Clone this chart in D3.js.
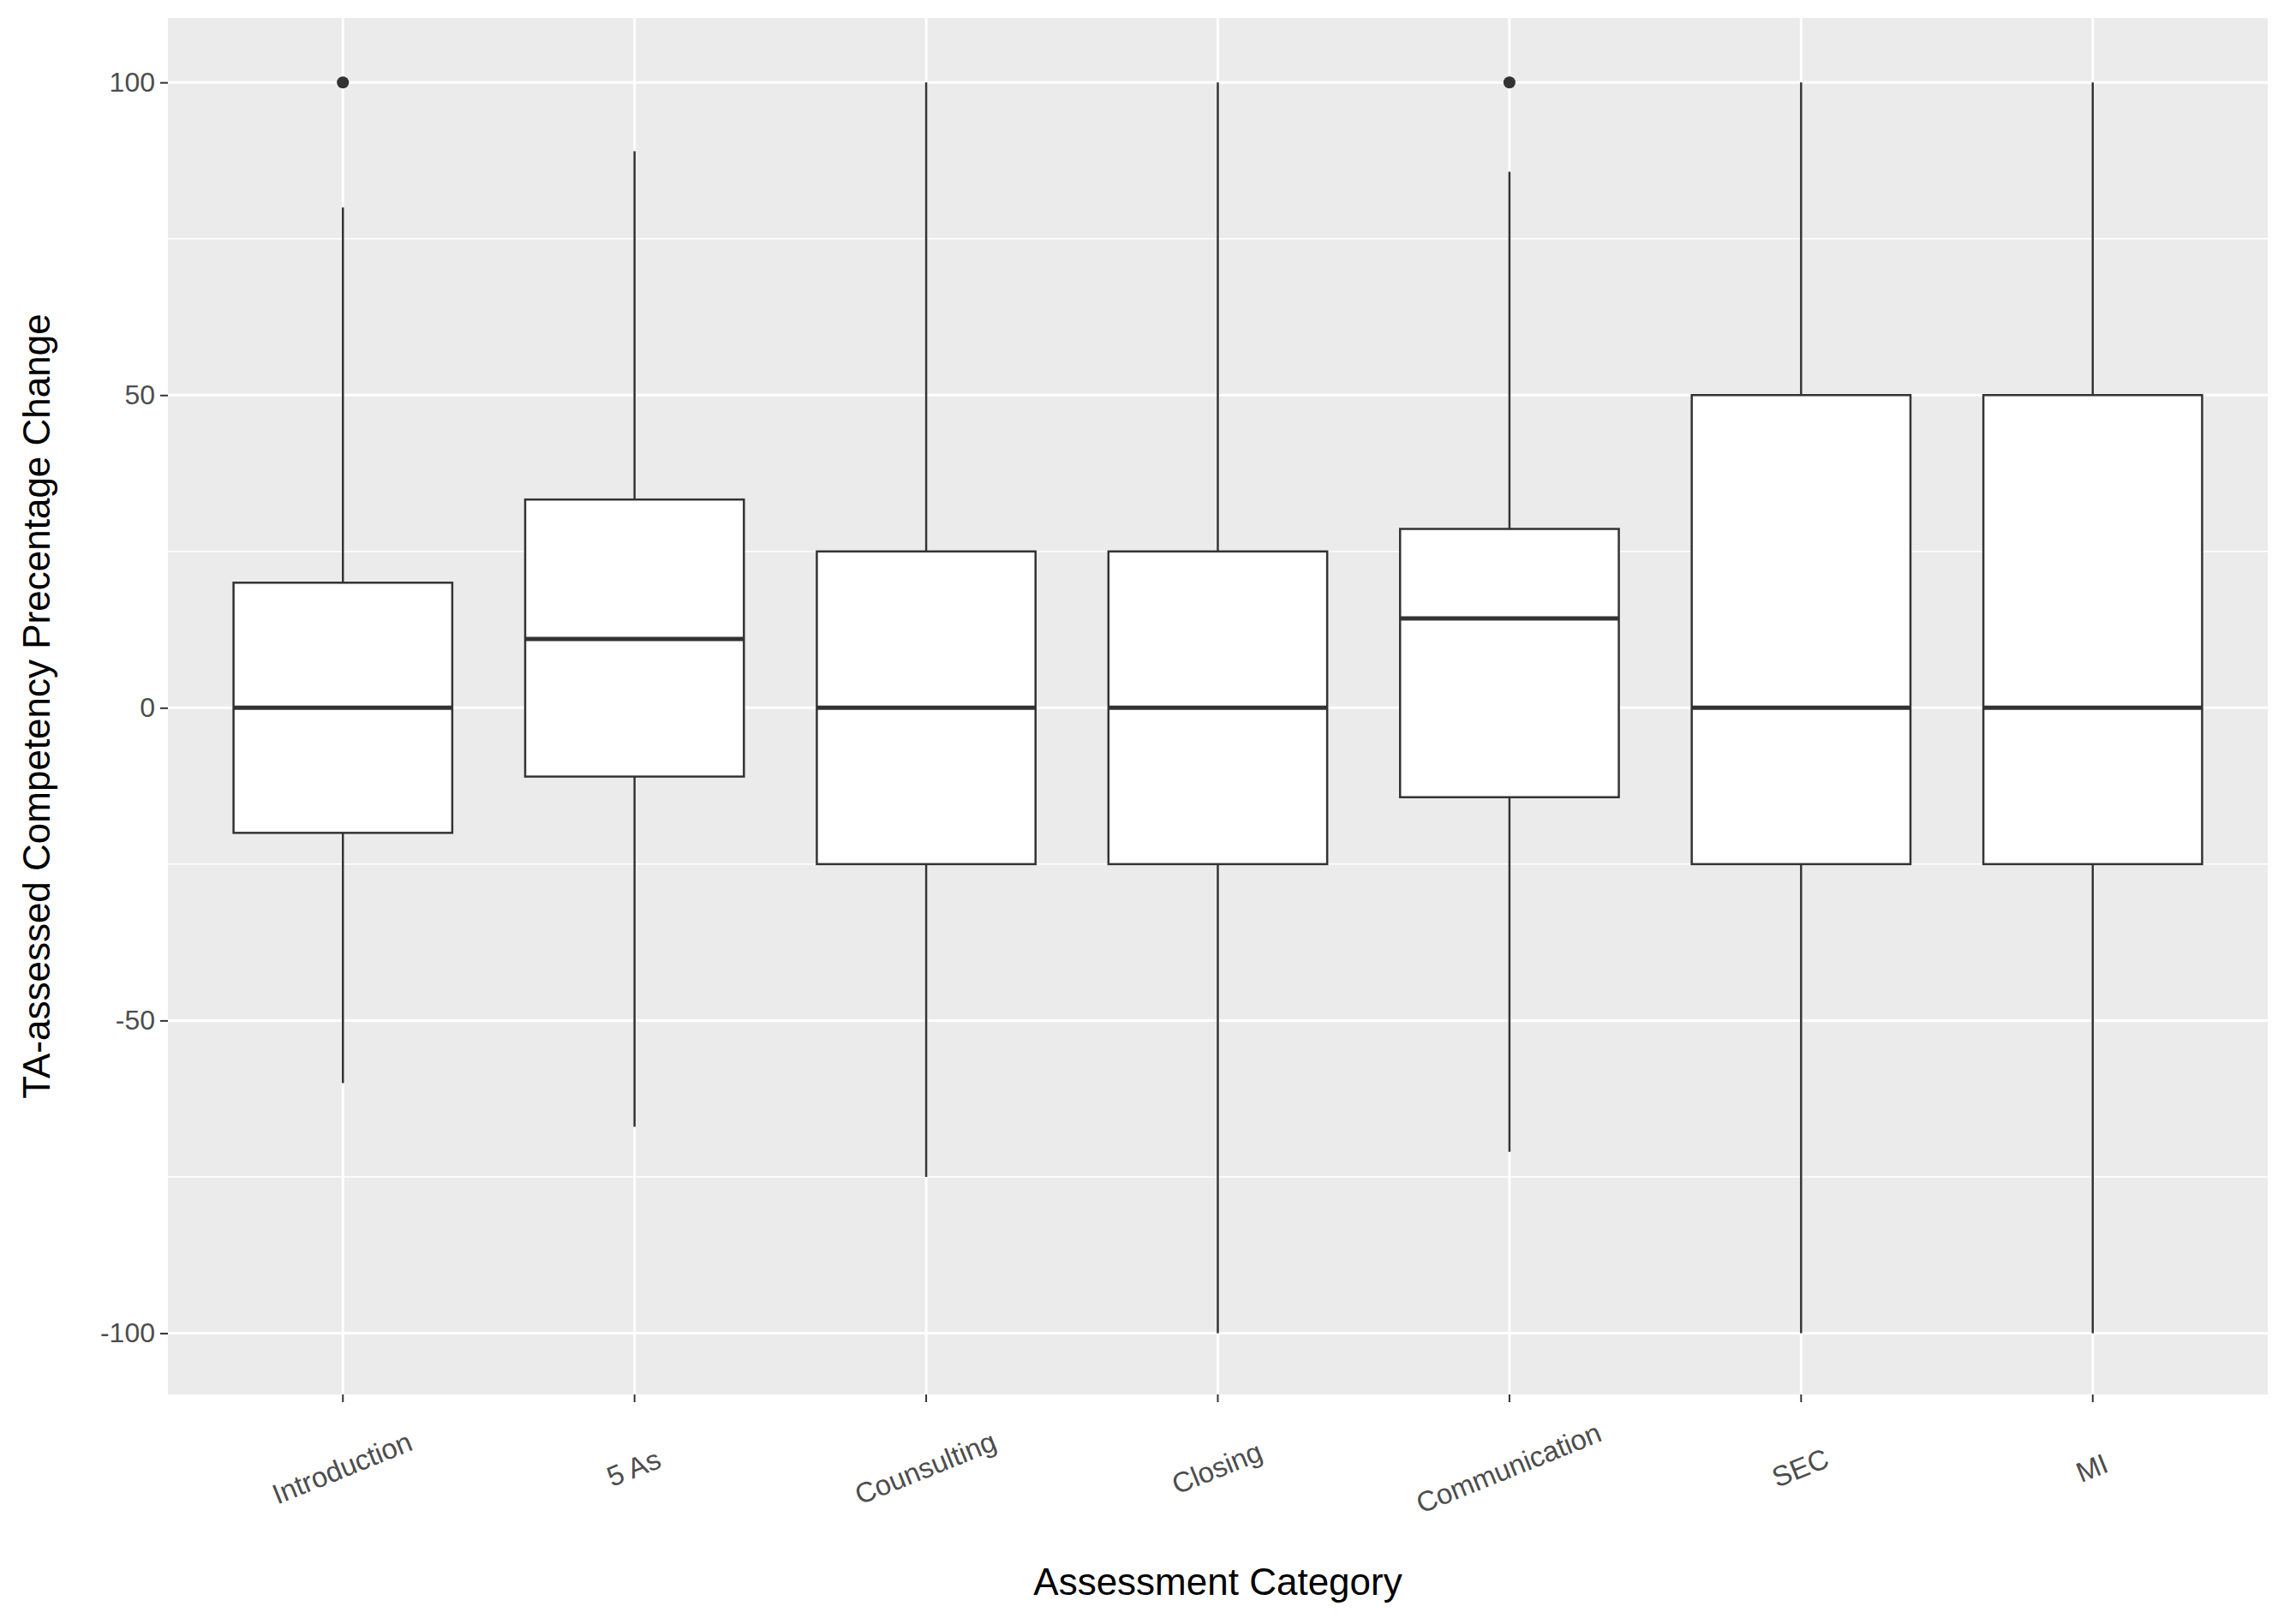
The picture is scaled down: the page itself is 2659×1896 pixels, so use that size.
<!DOCTYPE html>
<html>
<head>
<meta charset="utf-8">
<script src="https://cdn.jsdelivr.net/npm/d3@7"></script>
<style>
  body { margin: 0; background: #fff; }
  text { font-family: "Liberation Sans", Arial, sans-serif; }
</style>
</head>
<body>
<script>
const width = 2659, height = 1896
const margin = {top: 21, right: 12, bottom: 268, left: 196}

// box statistics
const categories = ['Introduction', '5 As', 'Counsulting', 'Closing', 'Communication', 'SEC', 'MI']
const lowerWhisker = [-60, -67, -75, -100, -71, -100, -100]
const q1 = [-20, -11, -25, -25, -14.3, -25, -25]
const median = [0, 11, 0, 0, 14.3, 0, 0]
const q3 = [20, 33.3, 25, 25, 28.6, 50, 50]
const upperWhisker = [80, 89, 100, 100, 85.7, 100, 100]
const outliers = [[100], [], [], [], [100], [], []]
const yTicks = [-100, -50, 0, 50, 100]
const yMinor = [-75, -25, 25, 75]

const boxes = categories.map((c, i) => ({
  cat: c, lo: lowerWhisker[i], q1: q1[i], med: median[i], q3: q3[i], hi: upperWhisker[i], out: outliers[i]
}))

const w = width - margin.left - margin.right
const h = height - margin.top - margin.bottom

const svg = d3.select('body').append('svg')
  .attr('width', width)
  .attr('height', height)

const g = svg.append('g')
  .attr('transform', `translate(${margin.left},${margin.top})`)

const x = d3.scaleBand().domain(categories).range([0, w]).paddingInner(0.25).paddingOuter(0.225)
const y = d3.scaleLinear().domain([-109.8, 110.3]).range([h, 0])

// panel
g.append('rect').attr('width', w).attr('height', h).attr('fill', '#ebebeb')

g.selectAll('.minor').data(yMinor).enter().append('line')
  .attr('x1', 0).attr('x2', w)
  .attr('y1', d => y(d)).attr('y2', d => y(d))
  .attr('stroke', '#fff').attr('stroke-width', 1.5)

g.selectAll('.major').data(yTicks).enter().append('line')
  .attr('x1', 0).attr('x2', w)
  .attr('y1', d => y(d)).attr('y2', d => y(d))
  .attr('stroke', '#fff').attr('stroke-width', 3)

g.selectAll('.vgrid').data(categories).enter().append('line')
  .attr('x1', d => x(d) + x.bandwidth() / 2).attr('x2', d => x(d) + x.bandwidth() / 2)
  .attr('y1', 0).attr('y2', h)
  .attr('stroke', '#fff').attr('stroke-width', 3)

// boxes
const bg = g.selectAll('.box').data(boxes).enter().append('g')
  .attr('transform', d => `translate(${x(d.cat)},0)`)

const bw = x.bandwidth()
bg.append('line')
  .attr('x1', bw / 2).attr('x2', bw / 2)
  .attr('y1', d => y(d.hi)).attr('y2', d => y(d.lo))
  .attr('stroke', '#333').attr('stroke-width', 2.5)

bg.append('rect')
  .attr('x', 0).attr('width', bw)
  .attr('y', d => y(d.q3)).attr('height', d => y(d.q1) - y(d.q3))
  .attr('fill', '#fff').attr('stroke', '#333').attr('stroke-width', 2.5)

bg.append('line')
  .attr('x1', 0).attr('x2', bw)
  .attr('y1', d => y(d.med)).attr('y2', d => y(d.med))
  .attr('stroke', '#333').attr('stroke-width', 5)

bg.selectAll('circle').data(d => d.out).enter().append('circle')
  .attr('cx', bw / 2).attr('cy', d => y(d)).attr('r', 7)
  .attr('fill', '#333')

// axes
const yAxis = g.append('g').call(d3.axisLeft(y).tickValues(yTicks).tickFormat(d => String(d)).tickSize(9).tickPadding(6))
yAxis.select('.domain').remove()
yAxis.selectAll('line').attr('stroke', '#333').attr('stroke-width', 2)
yAxis.selectAll('text').attr('font-size', 32).attr('fill', '#4d4d4d')

const xAxis = g.append('g').attr('transform', `translate(0,${h})`)
  .call(d3.axisBottom(x).tickSize(9).tickPadding(0))
xAxis.select('.domain').remove()
xAxis.selectAll('line').attr('stroke', '#333').attr('stroke-width', 2)
xAxis.selectAll('text')
  .attr('font-size', 33).attr('fill', '#4d4d4d')
  .attr('text-anchor', 'middle').attr('dy', 0)
  .attr('transform', 'translate(0,88) rotate(-22)')

svg.append('text')
  .attr('x', margin.left + w / 2).attr('y', 1862)
  .attr('text-anchor', 'middle').attr('font-size', 44)
  .text('Assessment Category')

svg.append('text')
  .attr('transform', `translate(58,${margin.top + h / 2}) rotate(-90)`)
  .attr('text-anchor', 'middle').attr('font-size', 44)
  .text('TA-assessed Competency Precentage Change')
</script>
</body>
</html>
